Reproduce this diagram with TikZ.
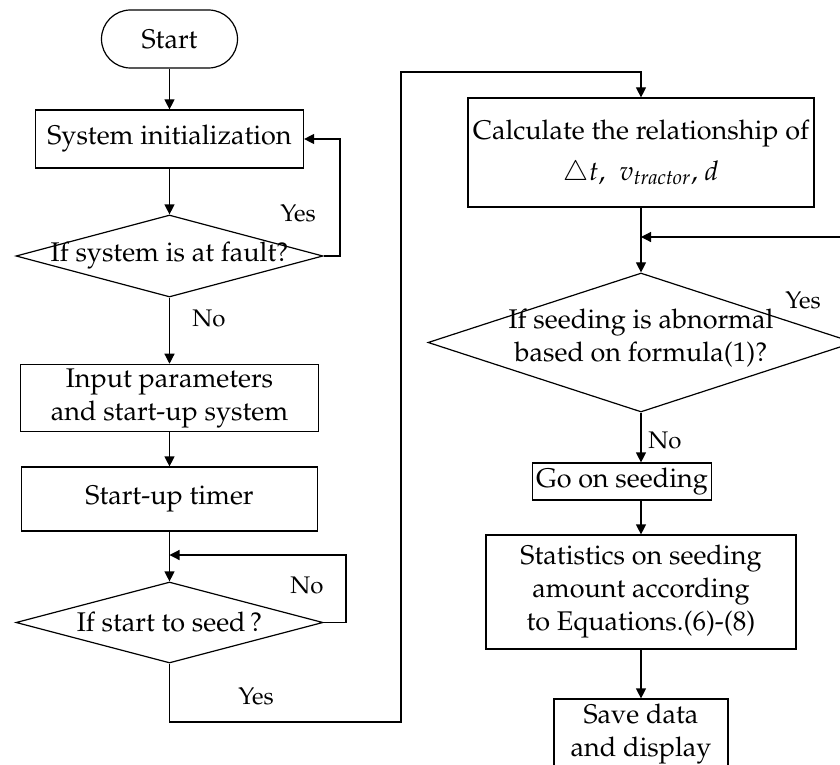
\documentclass[tikz,border=0pt]{standalone}
\usepackage[T1]{fontenc}
\usepackage{mathpazo}
\usetikzlibrary{shapes.geometric,arrows.meta}

\begin{document}
\begin{tikzpicture}
	[x=0.5pt,y=-0.5pt,
	line width=0.6pt,
	every node/.style={font=\fontsize{13.5}{16.5}\selectfont},
	terminal/.style={draw,rectangle,rounded corners=14.5pt,minimum width=68pt,minimum height=29pt},
	block/.style={draw,rectangle,align=center,inner sep=2pt},
	decision/.style={draw,diamond,inner sep=0pt},
	answer/.style={font=\fontsize{12}{14}\selectfont},
	flow/.style={-{Triangle[length=5pt,width=5pt]}}
	]
	\useasboundingbox (0,0) rectangle (840,765);
	\clip (0,0) rectangle (840,765);

	% left column
	\node[terminal] (start) at (169.5,39) {Start};
	\node[block,minimum width=134pt,minimum height=29pt] (init) at (169.5,139) {System initialization};
	\node[decision,minimum width=153.5pt,minimum height=41pt] (fault) at (169.5,256) {};
	\node (faultq) at (fault) {If system is at fault?};
	\node[block,minimum width=149pt,minimum height=32pt] (input) at (169.5,398) {Input parameters\\and start-up system};
	\node[block,minimum width=148pt,minimum height=32pt] (timer) at (169.5,499) {Start-up timer};
	\node[decision,minimum width=153.5pt,minimum height=40.5pt] (seed) at (169.5,622.5) {};
	\node (seedq) at (seed) {If start to seed\,?};

	% right column
	\node[block,minimum width=173pt,minimum height=54.5pt] (calc) at (641,152.5) {Calculate the relationship of\\[4pt]$\triangle t$,\; $v_{\mathit{tractor}}$, $d$};
	\node[decision,minimum width=213pt,minimum height=69.5pt] (abn) at (641,342.5) {};
	\node[align=center] (abnq) at (641,338) {If seeding is abnormal\\based on formula(1)?};
	\node[block,minimum width=84pt,minimum height=18.5pt] (go) at (622,481.5) {Go on seeding};
	\node[block,minimum width=155pt,minimum height=57pt] (stats) at (641,592) {Statistics on seeding\\amount according\\to Equations.(6)-(8)};
	\node[block,minimum width=87pt,minimum height=35pt] (save) at (641,734) {Save data\\and display};

	% answers
	\node[answer] (yes1) at (298,213) {Yes};
	\node[answer] (no1) at (209,318) {No};
	\node[answer] (no2) at (307,585) {No};
	\node[answer] (yes2) at (256,696) {Yes};
	\node[answer] (yes3) at (803,300) {Yes};
	\node[answer] (no3) at (665,440) {No};

	\coordinate (seedback) at (169.5,555);
	\coordinate (abnback) at (641,237);

	\draw[flow] (start) -- (init);
	\draw[flow] (init) -- (fault);
	\draw[flow] (fault.east) -- (340,256) |- (init.east);
	\draw[flow] (fault) -- (input);
	\draw[flow] (input) -- (timer);
	\draw[flow] (timer) -- (seed);
	\draw[flow] (seed.east) -- (346,622.5) |- (seedback);
	\draw[flow] (seed.south) -- (169.5,722) -- (401,722) -- (401,72) -| (calc.north);
	\draw[flow] (calc) -- (abn);
	\draw[flow] (abn.east) -- (880,342.5) |- (abnback);
	\draw[flow] (abn.south) -- (abn.south |- go.north);
	\draw[flow] (go.south -| stats) -- (stats);
	\draw[flow] (stats) -- (save);
\end{tikzpicture}
\end{document}
